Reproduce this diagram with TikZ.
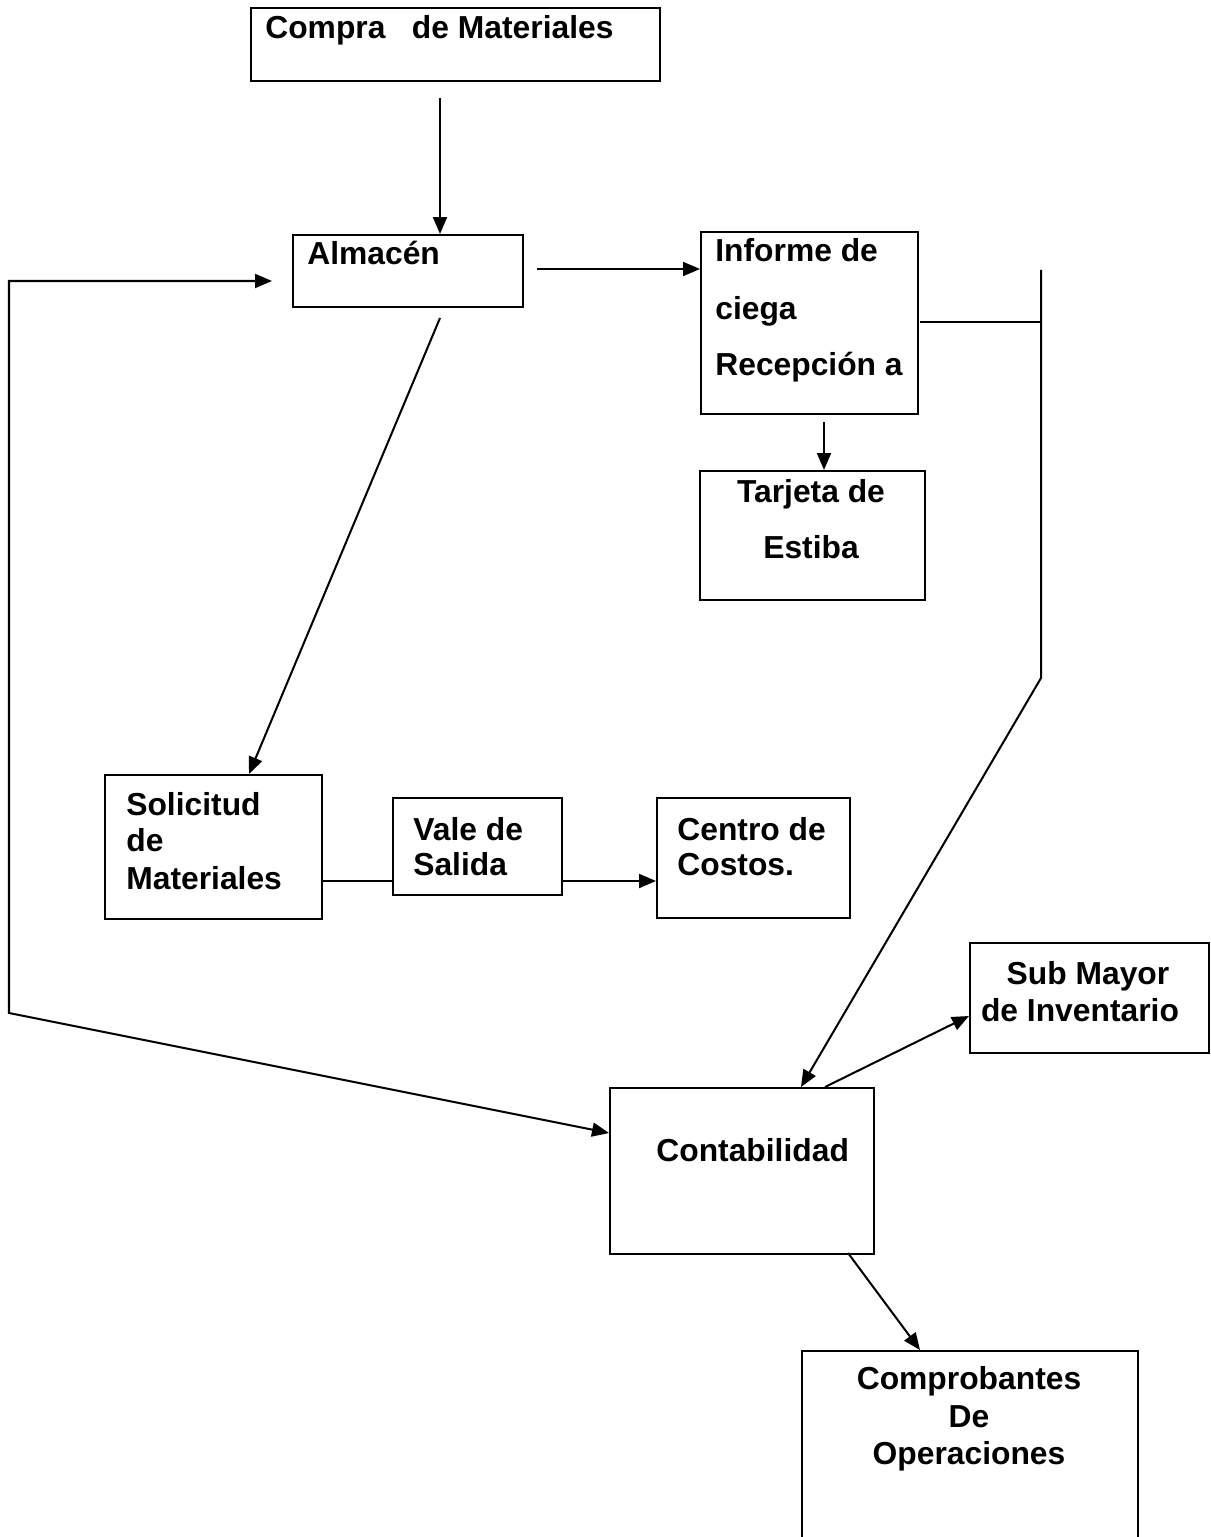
\documentclass[tikz,border=0pt]{standalone}
\usepackage{fontspec}
\setmainfont{Liberation Sans}
\usetikzlibrary{arrows.meta}
\begin{document}
\begin{tikzpicture}[x=0.02cm,y=-0.02cm,
  box/.style={draw, line width=1.15pt, inner sep=0pt, anchor=north west},
  txt/.style={inner sep=0pt, anchor=base west, font=\bfseries\fontsize{18.1}{21}\selectfont},
  ctxt/.style={txt, anchor=base},
  conn/.style={line width=1.15pt},
  arr/.style={conn, -{Triangle[length=0.34cm,width=0.28cm]}},
  darr/.style={conn, {Triangle[length=0.34cm,width=0.28cm]}-{Triangle[length=0.34cm,width=0.28cm]}}]
\useasboundingbox (0,0) rectangle (1210,1537);
\clip (0,0) rectangle (1210,1537);

% boxes
\node[box, minimum width=8.18cm, minimum height=1.46cm] (compra) at (250,7) {};
\node[box, minimum width=4.6cm, minimum height=1.44cm] (almacen) at (292,234) {};
\node[box, minimum width=4.34cm, minimum height=3.64cm] (informe) at (700,231) {};
\node[box, minimum width=4.5cm, minimum height=2.58cm] (tarjeta) at (699,470) {};
\node[box, minimum width=4.34cm, minimum height=2.88cm] (solicitud) at (104,774) {};
\node[box, minimum width=3.38cm, minimum height=1.94cm] (vale) at (392,797) {};
\node[box, minimum width=3.86cm, minimum height=2.4cm] (centro) at (656,797) {};
\node[box, minimum width=4.78cm, minimum height=2.2cm] (submayor) at (969,942) {};
\node[box, minimum width=5.28cm, minimum height=3.32cm] (contab) at (609,1087) {};
\node[box, minimum width=6.72cm, minimum height=4.2cm] (comprob) at (801,1350) {};

% texts
\node[txt] (compraT) at (265,39) {Compra\ \ \ de Materiales};
\node[txt] (almacenT) at (307,265) {Almacén};
\node[txt] (informeT1) at (715,262) {Informe de};
\node[txt] (informeT2) at (715,319) {ciega};
\node[txt] (informeT3) at (715,375) {Recepción a};
\node[ctxt] (tarjetaT1) at (811,502) {Tarjeta de};
\node[ctxt] (tarjetaT2) at (811,558) {Estiba};
\node[txt] (solicitudT1) at (126,815) {Solicitud};
\node[txt] (solicitudT2) at (126,851) {de};
\node[txt] (solicitudT3) at (126,889) {Materiales};
\node[txt] (valeT1) at (413,840) {Vale de};
\node[txt] (valeT2) at (413,875) {Salida};
\node[txt] (centroT1) at (677,840) {Centro de};
\node[txt] (centroT2) at (677,875) {Costos.};
\node[ctxt] (submayorT1) at (1088,984) {Sub Mayor};
\node[ctxt] (submayorT2) at (1080,1021) {de Inventario};
\node[txt] (contabT) at (656,1161) {Contabilidad};
\node[ctxt] (comprobT1) at (969,1389) {Comprobantes};
\node[ctxt] (comprobT2) at (969,1427) {De};
\node[ctxt] (comprobT3) at (969,1464) {Operaciones};

% connector end points
\coordinate (a1) at (440,98);
\coordinate (a2) at (440,234);
\coordinate (b1) at (537,269);
\coordinate (b2) at (700,269);
\coordinate (l1) at (272,281);
\coordinate (l2) at (9,281);
\coordinate (l3) at (9,1013);
\coordinate (l4) at (609,1133);
\coordinate (s1) at (440,318);
\coordinate (s2) at (249,774);
\coordinate (t1) at (824,422);
\coordinate (t2) at (824,470);
\coordinate (r1) at (920,322);
\coordinate (r2) at (1041,322);
\coordinate (r3) at (1041,270);
\coordinate (r4) at (1041,678);
\coordinate (r5) at (801,1087);
\coordinate (v1) at (321,881);
\coordinate (v2) at (392,881);
\coordinate (v3) at (561,881);
\coordinate (v4) at (656,881);
\coordinate (m1) at (825,1087);
\coordinate (m2) at (969,1016);
\coordinate (p1) at (848,1253);
\coordinate (p2) at (920,1350);

% connectors
\draw[arr] (a1) -- (a2);
\draw[arr] (b1) -- (b2);
\draw[darr] (l1) -- (l2) -- (l3) -- (l4);
\draw[arr] (s1) -- (s2);
\draw[arr] (t1) -- (t2);
\draw[conn] (r1) -- (r2);
\draw[arr] (r3) -- (r4) -- (r5);
\draw[conn] (v1) -- (v2);
\draw[arr] (v3) -- (v4);
\draw[arr] (m1) -- (m2);
\draw[arr] (p1) -- (p2);
\end{tikzpicture}
\end{document}
